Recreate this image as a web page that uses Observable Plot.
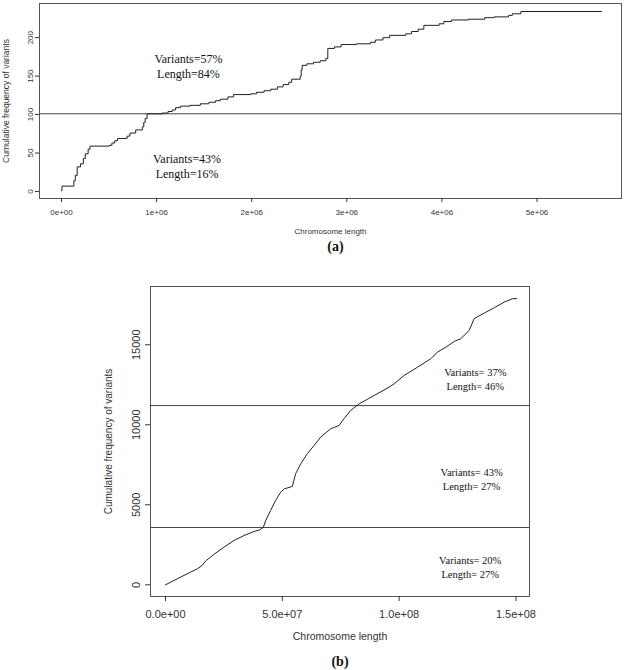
<!DOCTYPE html>
<html><head><meta charset="utf-8">
<script src="https://cdn.jsdelivr.net/npm/d3@7"></script>
<script src="https://cdn.jsdelivr.net/npm/@observablehq/plot@0.6"></script>
<style>
body{margin:0;background:#fff;}
#wrap{width:624px;}
svg{display:block;}
</style></head><body><div id="wrap"></div>
<script>
// ---- Panel (a) data ----
const aPos = [0, 0.005e6, 0.13e6, 0.145e6, 0.165e6, 0.2e6, 0.23e6, 0.25e6, 0.28e6, 0.3e6, 0.5e6, 0.53e6, 0.56e6, 0.59e6, 0.69e6, 0.72e6, 0.78e6, 0.85e6, 0.865e6, 0.88e6, 0.9e6, 1.06e6, 1.12e6, 1.165e6, 1.2e6, 1.25e6, 1.35e6, 1.46e6, 1.55e6, 1.62e6, 1.67e6, 1.75e6, 1.81e6, 1.99e6, 2.05e6, 2.13e6, 2.2e6, 2.27e6, 2.33e6, 2.39e6, 2.42e6, 2.51e6, 2.52e6, 2.53e6, 2.58e6, 2.65e6, 2.72e6, 2.78e6, 2.8e6, 2.87e6, 2.94e6, 3.1e6, 3.25e6, 3.3e6, 3.38e6, 3.45e6, 3.62e6, 3.68e6, 3.75e6, 3.81e6, 3.97e6, 4.02e6, 4.1e6, 4.28e6, 4.45e6, 4.55e6, 4.7e6, 4.74e6, 4.83e6, 5.68e6];
const aCount = [1, 7, 14, 21, 32, 36, 43, 49, 55, 59, 60, 63, 66, 69, 72, 76, 80, 84, 90, 95, 101, 102, 104, 106, 109, 111, 112, 114, 116, 118, 120, 123, 126, 127, 129, 131, 133, 136, 139, 142, 146, 150, 158, 164, 166, 168, 170, 173, 186, 188, 191, 192, 194, 197, 200, 203, 205, 208, 211, 216, 218, 221, 223, 224, 226, 227, 229, 231, 234, 234];
const aCut = 101;
const aXTicks = [0, 1e6, 2e6, 3e6, 4e6, 5e6];
const aXTickLabels = ["0e+00", "1e+06", "2e+06", "3e+06", "4e+06", "5e+06"];
const aYTicks = [0, 50, 100, 150, 200];
const aYTickLabels = ["0", "50", "100", "150", "200"];
const aNoteText = ["Variants=57%\nLength=84%", "Variants=43%\nLength=16%"];
const aNoteX = [1.335e6, 1.32e6];
const aNoteY = [163.5, 33.2];

// ---- Panel (b) data ----
const bPos = [0, 0.5e7, 1.07e7, 1.36e7, 1.57e7, 1.71e7, 2.07e7, 2.5e7, 2.93e7, 3.36e7, 3.79e7, 4.04e7, 4.19e7, 4.29e7, 4.5e7, 4.71e7, 4.93e7, 5.1e7, 5.43e7, 5.57e7, 5.79e7, 6.07e7, 6.36e7, 6.64e7, 7.07e7, 7.43e7, 7.64e7, 7.93e7, 8.29e7, 8.93e7, 9.57e7, 9.79e7, 10.21e7, 10.79e7, 11.36e7, 11.64e7, 12.0e7, 12.36e7, 12.64e7, 13.0e7, 13.21e7, 13.64e7, 14.07e7, 14.5e7, 14.86e7, 15.03e7];
const bCount = [0, 375, 790, 1000, 1210, 1480, 1900, 2350, 2770, 3080, 3330, 3440, 3600, 4020, 4650, 5270, 5790, 6000, 6150, 6940, 7560, 8190, 8710, 9230, 9750, 9960, 10380, 10900, 11310, 11830, 12350, 12560, 13080, 13600, 14130, 14540, 14850, 15210, 15380, 15900, 16630, 16980, 17310, 17670, 17880, 17880];
const bCuts = [11200, 3580];
const bXTicks = [0, 5e7, 1e8, 1.5e8];
const bXTickLabels = ["0.0e+00", "5.0e+07", "1.0e+08", "1.5e+08"];
const bYTicks = [0, 5000, 10000, 15000];
const bYTickLabels = ["0", "5000", "10000", "15000"];
const bNoteText = ["Variants= 37%\nLength= 46%", "Variants= 43%\nLength= 27%", "Variants= 20%\nLength= 27%"];
const bNoteX = [1.326e8, 1.31e8, 1.304e8];
const bNoteY = [12906, 6625, 1162];

const xTitle = "Chromosome length";
const yTitle = "Cumulative frequency of variants";

const sans = "'Liberation Sans', Arial, sans-serif";
const serif = "'Liberation Serif', 'Times New Roman', serif";
const ink = "#333";

const aData = aPos.map((x, i) => ({x, y: aCount[i]}));
const aNotes = aNoteText.map((t, i) => ({t, x: aNoteX[i], y: aNoteY[i]}));

const plotA = Plot.plot({
  width: 624, height: 262,
  marginTop: 3, marginRight: 3, marginBottom: 64, marginLeft: 39,
  style: {fontFamily: sans, background: "#fff", color: ink},
  x: {domain: [-0.2313e6, 5.888e6]},
  y: {domain: [-9.1, 244.4]},
  marks: [
    Plot.frame({stroke: "#555", strokeWidth: 1}),
    Plot.axisX({ticks: aXTicks, tickFormat: (d, i) => aXTickLabels[i], tickSize: 4, tickPadding: 7, fontSize: 8, label: null}),
    Plot.axisY({ticks: aYTicks, tickFormat: (d, i) => aYTickLabels[i], tickRotate: -90, tickSize: 4, tickPadding: 3, fontSize: 8, label: null}),
    Plot.ruleY([aCut], {stroke: "#444", strokeWidth: 1}),
    Plot.line(aData, {x: "x", y: "y", curve: "step-after", stroke: "#222", strokeWidth: 1}),
    Plot.text(aNotes, {x: "x", y: "y", text: "t", fontFamily: serif, fontSize: 12, lineHeight: 1.25, fill: "#111"}),
    Plot.text([xTitle], {frameAnchor: "bottom", dy: 35, fontSize: 8, fill: ink}),
    Plot.text([yTitle], {frameAnchor: "left", textAnchor: "middle", rotate: -90, dx: -33, fontSize: 8.5, fill: ink}),
    Plot.text(["(a)"], {frameAnchor: "bottom", dx: 5, dy: 52, fontFamily: serif, fontWeight: "bold", fontSize: 14, fill: "#111"})
  ]
});

const bData = bPos.map((x, i) => ({x, y: bCount[i]}));
const bNotes = bNoteText.map((t, i) => ({t, x: bNoteX[i], y: bNoteY[i]}));

const plotB = Plot.plot({
  width: 624, height: 408,
  marginTop: 24, marginRight: 95, marginBottom: 74, marginLeft: 150,
  style: {fontFamily: sans, background: "#fff", color: ink},
  x: {domain: [-6.42e6, 155.8e6]},
  y: {domain: [-730, 18640]},
  marks: [
    Plot.frame({stroke: "#555", strokeWidth: 1}),
    Plot.axisX({ticks: bXTicks, tickFormat: (d, i) => bXTickLabels[i], tickSize: 5, tickPadding: 9, fontSize: 11, label: null}),
    Plot.axisY({ticks: bYTicks, tickFormat: (d, i) => bYTickLabels[i], tickRotate: -90, tickSize: 5, tickPadding: 6, fontSize: 11, label: null}),
    Plot.ruleY(bCuts, {stroke: "#444", strokeWidth: 1}),
    Plot.line(bData, {x: "x", y: "y", stroke: "#222", strokeWidth: 1}),
    Plot.text(bNotes, {x: "x", y: "y", text: "t", fontFamily: serif, fontSize: 10.5, lineHeight: 1.33, fill: "#111"}),
    Plot.text([xTitle], {frameAnchor: "bottom", dy: 43, fontSize: 10.5, fill: ink}),
    Plot.text([yTitle], {frameAnchor: "left", textAnchor: "middle", rotate: -90, dx: -42, fontSize: 10, fill: ink}),
    Plot.text(["(b)"], {frameAnchor: "bottom", dx: 0, dy: 69, fontFamily: serif, fontWeight: "bold", fontSize: 14, fill: "#111"})
  ]
});

const wrap = document.getElementById("wrap");
wrap.appendChild(plotA);
wrap.appendChild(plotB);
</script>
</body></html>
